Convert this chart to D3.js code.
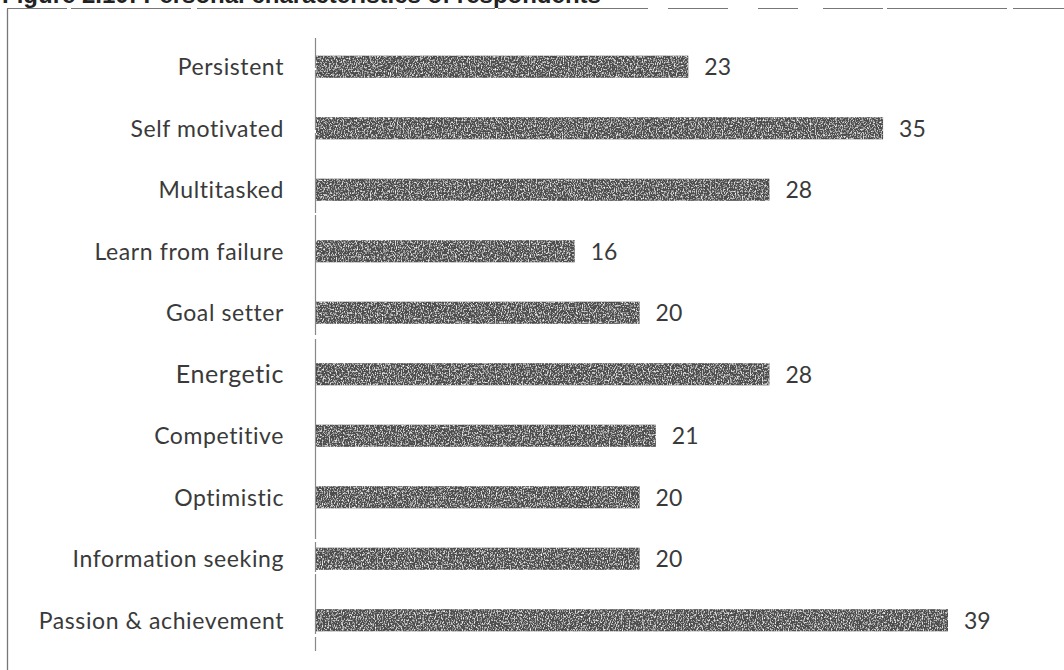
<!DOCTYPE html>
<html>
<head>
<meta charset="utf-8">
<script src="https://cdn.jsdelivr.net/npm/d3@7"></script>
<style>
  html, body { margin: 0; padding: 0; background: #fff; }
  svg { display: block; }
  text { font-variant-ligatures: none; font-feature-settings: "liga" 0; }
</style>
</head>
<body>
<svg id="chart" width="1064" height="670"></svg>
<script>
// Personal characteristics of respondents (count of responses)
const categories = [
  "Persistent", "Self motivated", "Multitasked", "Learn from failure",
  "Goal setter", "Energetic", "Competitive", "Optimistic",
  "Information seeking", "Passion & achievement"
];
const values = [23, 35, 28, 16, 20, 28, 21, 20, 20, 39];
const titleText = "Figure 2.10: Personal characteristics of respondents";

const svg = d3.select("#chart");
const W = 1064, H = 670;
const labelFont = "Lato, 'Open Sans', sans-serif";

// grainy print texture for the bars
const defs = svg.append("defs");
const f = defs.append("filter").attr("id", "grain")
  .attr("x", 0).attr("y", 0).attr("width", 1).attr("height", 1);
f.append("feTurbulence").attr("type", "fractalNoise")
  .attr("baseFrequency", "0.85 0.55").attr("numOctaves", 2).attr("seed", 4).attr("result", "n");
f.append("feColorMatrix").attr("in", "n").attr("type", "matrix")
  .attr("values", "0 0 0 0 1  0 0 0 0 1  0 0 0 0 1  0 0 0 -2.8 1.45").attr("result", "spk");
f.append("feComposite").attr("in", "spk").attr("in2", "SourceGraphic").attr("operator", "in").attr("result", "spk2");
const m = f.append("feMerge");
m.append("feMergeNode").attr("in", "SourceGraphic");
m.append("feMergeNode").attr("in", "spk2");

// figure caption running off the top edge
svg.append("text")
  .attr("x", 2).attr("y", 3)
  .attr("font-family", "Liberation Sans, Arial, sans-serif")
  .attr("font-weight", "bold")
  .attr("font-size", 24)
  .attr("fill", "#222")
  .text(titleText);

// frame around the figure
const frame = svg.append("g").attr("stroke", "#777").attr("fill", "none");
frame.append("line").attr("x1", 7.5).attr("x2", 7.5).attr("y1", 9).attr("y2", H)
  .attr("stroke-width", 1.3);
frame.append("line").attr("x1", 7).attr("x2", 1064).attr("y1", 8.5).attr("y2", 8.5)
  .attr("stroke-width", 1.2).attr("stroke-dasharray", "60 4 120 6 200 8 90 3 150 20 60 30 40 25");

const margin = { left: 315, top: 36 };
const x = d3.scaleLinear().domain([0, 39]).range([margin.left, 948]);
const y = d3.scaleBand().domain(categories)
  .range([margin.top, 651]).paddingInner(0.64).paddingOuter(0.32);

// category axis
const axis = d3.axisLeft(y).tickSize(0).tickPadding(31);
const gAxis = svg.append("g")
  .attr("transform", `translate(${margin.left},0)`)
  .call(axis);
gAxis.select(".domain").remove();
gAxis.selectAll("text")
  .attr("font-family", labelFont)
  .attr("fill", "#3a3a3a")
  .attr("dy", "0.36em")
  .attr("letter-spacing", 0.6)
  .attr("font-size", d => d === "Energetic" ? 25 : 23);

svg.append("line")
  .attr("x1", margin.left + 0.5).attr("x2", margin.left + 0.5)
  .attr("y1", 38).attr("y2", 651)
  .attr("stroke", "#888").attr("stroke-width", 1.2)
  .attr("stroke-dasharray", "30 2 60 3 80 2 120 4 200 3");

// bars
svg.append("g").selectAll("rect")
  .data(categories)
  .join("rect")
  .attr("x", x(0) + 1)
  .attr("y", d => y(d))
  .attr("width", (d, i) => x(values[i]) - x(0) - 1)
  .attr("height", y.bandwidth())
  .attr("fill", "#4e4e4e")
  .attr("filter", "url(#grain)");

// value labels
svg.append("g").selectAll("text")
  .data(categories)
  .join("text")
  .attr("x", (d, i) => x(values[i]) + 16)
  .attr("y", d => y(d) + y.bandwidth() / 2)
  .attr("dy", "0.36em")
  .attr("font-family", labelFont)
  .attr("font-size", 23)
  .attr("fill", "#3a3a3a")
  .text((d, i) => values[i]);
</script>
</body>
</html>
